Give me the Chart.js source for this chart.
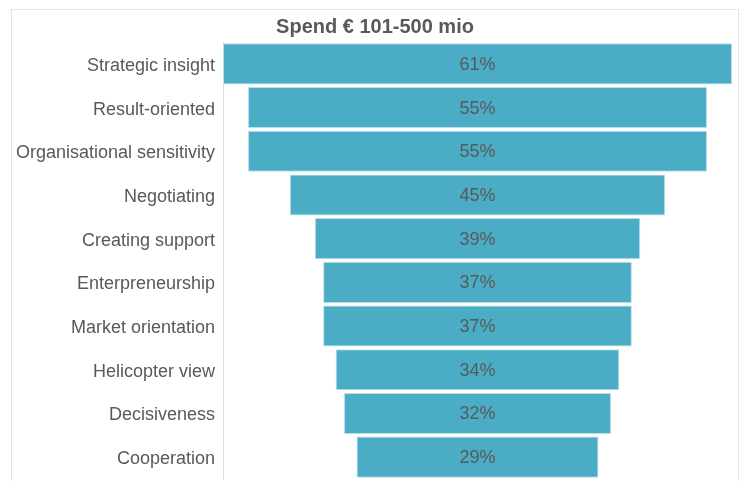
<!DOCTYPE html>
<html>
<head>
<meta charset="utf-8">
<script src="https://cdn.jsdelivr.net/npm/chart.js@4"></script>
<style>
  html, body { margin: 0; padding: 0; background: #ffffff; }
  #wrap { width: 743px; height: 481px; position: relative; }
</style>
</head>
<body>
<div id="wrap"><canvas id="funnel"></canvas></div>
<script>
// Competencies and share of respondents (%), spend € 101-500 mio
const categories = [
  'Strategic insight', 'Result-oriented', 'Organisational sensitivity',
  'Negotiating', 'Creating support', 'Enterpreneurship',
  'Market orientation', 'Helicopter view', 'Decisiveness', 'Cooperation'
];
const shares = [61, 55, 55, 45, 39, 37, 37, 34, 32, 29];
const chartTitle = 'Spend € 101-500 mio';

const textGrey = '#595959';
const fontFamily = '"Liberation Sans", Arial, sans-serif';

// Each bar is centred on zero so the list reads as a funnel
const funnelRanges = shares.map(v => [-v / 2, v / 2]);
const halfSpan = Math.max(...shares) / 2;

const framePlugin = {
  id: 'frameAndTitle',
  beforeDraw(chart) {
    const ctx = chart.ctx;
    ctx.save();
    ctx.strokeStyle = '#e3e3e3';
    ctx.lineWidth = 1;
    ctx.strokeRect(11.5, 9.5, 727, 480);
    ctx.fillStyle = textGrey;
    ctx.font = 'bold 20px ' + fontFamily;
    ctx.textAlign = 'center';
    ctx.textBaseline = 'alphabetic';
    ctx.fillText(chartTitle, 375, 33);
    ctx.restore();
  }
};

const valueLabels = {
  id: 'valueLabels',
  afterDatasetsDraw(chart) {
    const ctx = chart.ctx;
    const meta = chart.getDatasetMeta(0);
    ctx.save();
    ctx.fillStyle = textGrey;
    ctx.font = '18px ' + fontFamily;
    ctx.textAlign = 'center';
    ctx.textBaseline = 'middle';
    meta.data.forEach((bar, i) => {
      const c = bar.getCenterPoint();
      ctx.fillText(shares[i] + '%', c.x, c.y + 1);
    });
    ctx.restore();
  }
};

new Chart(document.getElementById('funnel'), {
  type: 'bar',
  data: {
    labels: categories,
    datasets: [{
      data: funnelRanges,
      backgroundColor: '#4bacc6',
      borderColor: '#b9dfea',
      borderWidth: 1,
      borderSkipped: false,
      barPercentage: 0.94,
      categoryPercentage: 1.0
    }]
  },
  options: {
    indexAxis: 'y',
    responsive: true,
    maintainAspectRatio: false,
    animation: false,
    layout: { padding: { top: 42, right: 11, bottom: 2, left: 0 } },
    plugins: {
      legend: { display: false },
      title: { display: false },
      tooltip: { enabled: false }
    },
    scales: {
      x: {
        display: false,
        min: -halfSpan,
        max: halfSpan
      },
      y: {
        afterFit(scale) {
          scale.width = 223;
          scale.paddingTop = 0;
          scale.paddingBottom = 0;
        },
        grid: { display: false, drawTicks: false },
        border: { display: true, color: '#dedede', width: 1 },
        ticks: {
          color: textGrey,
          padding: 8,
          labelOffset: 2,
          font: { family: fontFamily, size: 18 }
        }
      }
    }
  },
  plugins: [framePlugin, valueLabels]
});
</script>
</body>
</html>
